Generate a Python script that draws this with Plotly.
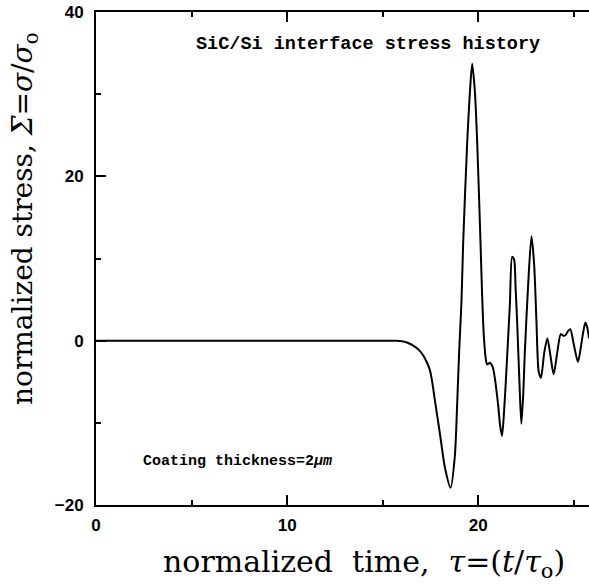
import plotly.graph_objects as go

# normalized time and stress
tau = [0, 15.0, 15.7, 16.0, 16.3, 16.6, 16.9, 17.12, 17.3, 17.47, 17.6, 17.73, 17.99, 18.25, 18.55,
       18.77, 18.9, 19.0, 19.12, 19.21, 19.42, 19.56, 19.68, 19.82, 19.94, 20.1, 20.2, 20.29,
       20.39, 20.46, 20.6, 20.75, 20.86, 21.03, 21.15, 21.24, 21.35, 21.47, 21.65, 21.77, 21.87,
       21.95, 22.03, 22.15, 22.25, 22.35, 22.43, 22.6, 22.78, 22.92, 23.04, 23.16, 23.28, 23.44,
       23.61, 23.76, 23.94, 24.12, 24.31, 24.45, 24.57, 24.7, 24.81, 24.99, 25.21, 25.35, 25.47,
       25.6, 25.7, 25.79]
sigma = [0, 0, -0.02, -0.08, -0.25, -0.6, -1.15, -1.8, -2.6, -3.6, -5.2, -7.3, -11.3, -15.4, -17.9,
         -14.1, -7.3, -1.2, 4.85, 12.1, 24.2, 30.3, 33.7, 30.3, 24.2, 13.0, 5.5, 0.5,
         -2.2, -2.9, -2.7, -3.2, -4.5, -7.7, -10.5, -11.6, -8.5, -3.6, 4.4, 10.2, 9.9,
         6.5, 2.4, -5.0, -10.1, -6.5, -1.6, 6.5, 12.7, 9.3, 2.4, -3.8, -4.5, -1.6,
         0.3, -1.6, -4.1, -1.6, 0.8, 0.6, 0.7, 1.2, 1.4, -0.4, -2.6, -1.0, 0.8,
         2.2, 1.6, 0.3]

x_range = [0, 25.79]
y_range = [-20, 40]

fig = go.Figure()
fig.add_trace(go.Scatter(x=tau, y=sigma, mode="lines",
                         line=dict(color="black", width=2, shape="spline", smoothing=0.7),
                         showlegend=False, hoverinfo="skip"))

tickfont = dict(family="Liberation Sans", size=17, color="black", weight="bold")
fig.update_xaxes(range=x_range, tickmode="linear", tick0=0, dtick=10,
                 ticks="inside", ticklen=10, tickwidth=2, tickcolor="black",
                 showline=True, linewidth=2, linecolor="black", mirror="ticks",
                 showgrid=False, zeroline=False, tickfont=tickfont, ticklabelstandoff=4,
                 minor=dict(tick0=0, dtick=5, ticks="inside", ticklen=5, tickwidth=1.5,
                            tickcolor="black", showgrid=False))
fig.update_yaxes(range=y_range, tickmode="linear", tick0=0, dtick=20,
                 ticks="inside", ticklen=10, tickwidth=2, tickcolor="black",
                 showline=True, linewidth=2, linecolor="black", mirror=False,
                 showgrid=False, zeroline=False, tickfont=tickfont, ticklabelstandoff=7,
                 minor=dict(tick0=0, dtick=10, ticks="inside", ticklen=5, tickwidth=1.5,
                            tickcolor="black", showgrid=False))

fig.add_annotation(text="normalized\u00a0 time,\u00a0 <i>\u03c4</i>=(<i>t</i>/<i>\u03c4</i><sub>o</sub>)",
                   xref="paper", yref="paper", x=(364 - 96) / 493, y=-(563 - 505) / 493,
                   showarrow=False, font=dict(family="DejaVu Serif", size=30, color="black"),
                   xanchor="center", yanchor="middle")
fig.add_annotation(text="normalized stress, <i>\u03a3</i>=<i>\u03c3</i>/<i>\u03c3</i><sub>o</sub>",
                   xref="paper", yref="paper", x=-(96 - 24) / 493, y=(505 - 219) / 493,
                   textangle=-90, showarrow=False,
                   font=dict(family="DejaVu Serif", size=28, color="black"),
                   xanchor="center", yanchor="middle")

mono = dict(family="Liberation Mono", size=18.5, color="black", weight="bold")
fig.add_annotation(text="SiC/Si interface stress history", xref="paper", yref="paper",
                   x=(368 - 96) / 493, y=(505 - 45) / 493, showarrow=False, font=mono,
                   xanchor="center", yanchor="middle")
fig.add_annotation(text="Coating thickness=2<i>\u03bcm</i>", xref="paper", yref="paper",
                   x=(237 - 96) / 493, y=(505 - 461) / 493, showarrow=False,
                   font=dict(family="Liberation Mono", size=15, color="black", weight="bold"),
                   xanchor="center", yanchor="middle")

fig.update_layout(width=589, height=584, margin=dict(l=96, r=0, t=12, b=79),
                  paper_bgcolor="white", plot_bgcolor="white")
fig.write_html("out.html")
